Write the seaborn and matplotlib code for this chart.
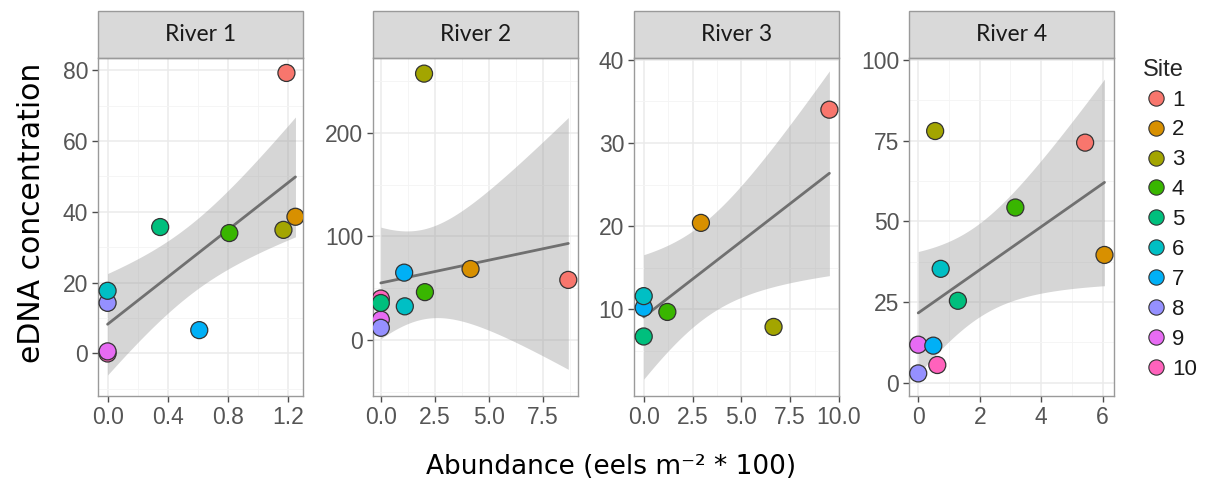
import numpy as np
import pandas as pd
import matplotlib
matplotlib.use("Agg")
import matplotlib.pyplot as plt
import seaborn as sns
from matplotlib.patches import Rectangle
from matplotlib.lines import Line2D

# values
sites = [1, 2, 3, 4, 5, 6, 7, 8, 9, 10]
rivers = ["River 1", "River 2", "River 3", "River 4"]

r1_abund = [1.19, 1.25, 1.17, 0.81, 0.35, 0.0, 0.61, 0.0, 0.0, 0.0]
r1_edna = [79.2, 38.6, 34.9, 34.0, 35.7, 17.7, 6.6, 14.3, 0.6, 0.0]
r2_abund = [8.67, 4.15, 2.0, 2.04, 0.0, 1.11, 1.08, 0.0, 0.0, 0.0]
r2_edna = [58.0, 68.5, 257.0, 46.2, 35.7, 32.5, 65.0, 11.8, 19.7, 40.0]
r3_abund = [9.51, 2.93, 6.65, 1.21, 0.0, 0.0, 0.0, np.nan, np.nan, np.nan]
r3_edna = [34.0, 20.4, 7.9, 9.7, 6.75, 11.6, 10.2, np.nan, np.nan, np.nan]
r4_abund = [5.43, 6.06, 0.55, 3.16, 1.29, 0.73, 0.49, 0.0, 0.0, 0.62]
r4_edna = [74.4, 39.6, 78.0, 54.3, 25.4, 35.3, 11.5, 2.9, 11.8, 5.5]

# axis settings per panel
xlims = [(-0.064, 1.30), (-0.36, 9.12), (-0.5, 10.0), (-0.3, 6.37)]
ylims = [(-12, 83.4), (-54, 272), (-0.4, 40.2), (-4.1, 100.6)]
xticks = [[0.0, 0.4, 0.8, 1.2], [0.0, 2.5, 5.0, 7.5], [0.0, 2.5, 5.0, 7.5, 10.0], [0, 2, 4, 6]]
xticklabels = [["0.0", "0.4", "0.8", "1.2"], ["0.0", "2.5", "5.0", "7.5"],
               ["0.0", "2.5", "5.0", "7.5", "10.0"], ["0", "2", "4", "6"]]
yticks = [[0, 20, 40, 60, 80], [0, 100, 200], [10, 20, 30, 40], [0, 25, 50, 75, 100]]

palette = ["#F8766D", "#D89000", "#A3A500", "#39B600", "#00BF7D",
           "#00BFC4", "#00B0F6", "#9590FF", "#E76BF3", "#FF62BC"]

frames = []
for river, ab, ed in zip(rivers, [r1_abund, r2_abund, r3_abund, r4_abund],
                         [r1_edna, r2_edna, r3_edna, r4_edna]):
    frames.append(pd.DataFrame({"river": river, "site": sites, "abundance": ab, "edna": ed}))
df = pd.concat(frames).dropna()

# t quantiles for the band (the reference band matches a 90% interval)
t_crit = {5: 2.015, 8: 1.860}

sns.set_theme(style="white")
plt.rcParams["font.family"] = ["Liberation Sans", "DejaVu Sans"]

fig = plt.figure(figsize=(12.08, 4.8), dpi=100)
lefts = [0.0811, 0.3088, 0.5248, 0.7525]
bottom, height, width = 0.175, 0.704, 0.1697
strip_h = 0.139

for i, river in enumerate(rivers):
    ax = fig.add_axes([lefts[i], bottom, width, height])
    sub = df[df["river"] == river]
    x = sub["abundance"].to_numpy()
    y = sub["edna"].to_numpy()

    # confidence band of the linear fit
    n = len(x)
    b, a = np.polyfit(x, y, 1)
    resid = y - (a + b * x)
    s = np.sqrt(np.sum(resid ** 2) / (n - 2))
    xg = np.linspace(x.min(), x.max(), 80)
    se = s * np.sqrt(1 / n + (xg - x.mean()) ** 2 / np.sum((x - x.mean()) ** 2))
    fit = a + b * xg
    ax.fill_between(xg, fit - t_crit[n - 2] * se, fit + t_crit[n - 2] * se,
                    color="#999999", alpha=0.4, lw=0, zorder=1)

    sns.regplot(data=sub, x="abundance", y="edna", ax=ax, scatter=False, ci=None,
                truncate=True, line_kws={"color": "#707070", "lw": 2, "zorder": 2})

    sns.scatterplot(data=sub.iloc[::-1], x="abundance", y="edna", hue="site",
                    palette=dict(zip(sites, palette)), s=150, edgecolor="#333333",
                    linewidth=0.9, ax=ax, legend=False, zorder=3)

    xt = xticks[i]
    yt = yticks[i]
    ax.set_xticks(xt)
    ax.set_xticklabels(xticklabels[i])
    ax.set_yticks(yt)
    ax.set_xticks([v + (xt[1] - xt[0]) / 2 for v in [xt[0] - (xt[1] - xt[0])] + xt], minor=True)
    ax.set_yticks([v + (yt[1] - yt[0]) / 2 for v in [yt[0] - (yt[1] - yt[0])] + yt], minor=True)
    ax.set_xlim(xlims[i])
    ax.set_ylim(ylims[i])
    ax.grid(True, which="major", color="#ebebeb", lw=1.1, zorder=0)
    ax.grid(True, which="minor", color="#f4f4f4", lw=0.6, zorder=0)
    ax.set_axisbelow(True)
    ax.tick_params(which="major", length=4, width=1, color="#4d4d4d", labelsize=16.5,
                   labelcolor="#555555", pad=3, bottom=True, left=True)
    ax.tick_params(which="minor", length=0)
    for sp in ax.spines.values():
        sp.set_color("#9a9a9a")
        sp.set_linewidth(1)
    ax.set_xlabel("")
    ax.set_ylabel("")

    ax.add_patch(Rectangle((0, 1), 1, strip_h, transform=ax.transAxes, clip_on=False,
                           facecolor="#d9d9d9", edgecolor="#9a9a9a", lw=1))
    ax.text(0.5, 1 + strip_h / 2, river, transform=ax.transAxes, ha="center", va="center",
            fontsize=16.5, color="#1a1a1a", family=["Lato", "DejaVu Sans"])

fig.text(0.026, 0.556, "eDNA concentration", rotation=90, ha="center", va="center",
         fontsize=21.5, color="black", family=["DejaVu Sans"])
fig.text(0.506, 0.027, "Abundance (eels m\u207b\u00b2 * 100)", ha="center", va="center",
         fontsize=19, color="black", family=["DejaVu Sans"])

handles = [Line2D([], [], marker="o", ls="", markersize=11, markerfacecolor=c,
                  markeredgecolor="#333333", markeredgewidth=0.8) for c in palette]
leg = fig.legend(handles, [str(s_) for s_ in sites], loc="upper left",
                 bbox_to_anchor=(0.937, 0.901), frameon=False, title="Site",
                 fontsize=16, title_fontsize=17, labelspacing=0.4, handletextpad=0.1,
                 handlelength=1.2, alignment="left", borderpad=0)
for t in leg.get_texts():
    t.set_color("#1a1a1a")

fig.savefig("out.png", dpi=100)
